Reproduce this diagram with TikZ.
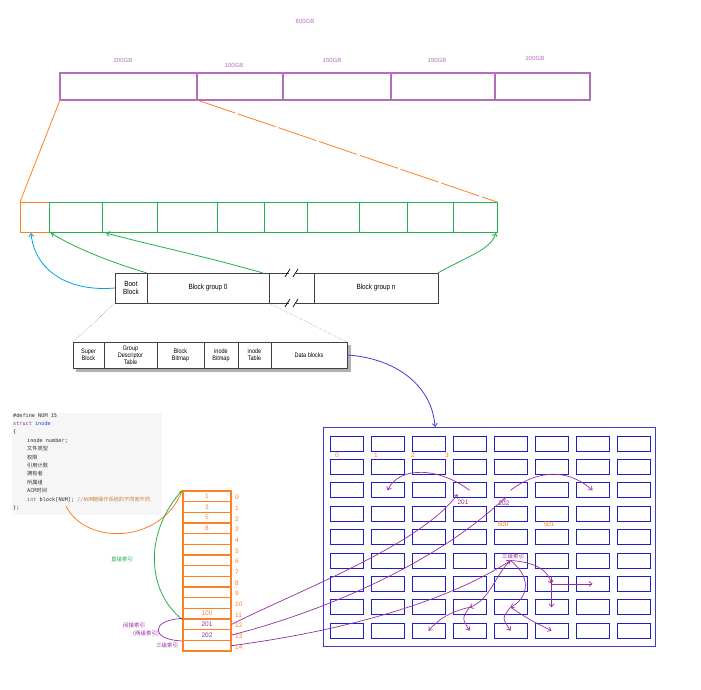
\documentclass[tikz,border=0pt]{standalone}
\usepackage{fontspec}
\setmainfont{Liberation Sans}
\setmonofont{DejaVu Sans Mono}
\newfontfamily\cjk{Noto Sans CJK SC}
\newfontfamily\narrowsf[FakeStretch=0.85]{Liberation Sans}
\usetikzlibrary{arrows.meta,calc}
\definecolor{diskpurple}{RGB}{180,110,190}
\definecolor{paintorange}{RGB}{255,127,39}
\definecolor{paintgreen}{RGB}{34,177,76}
\definecolor{paintblue}{RGB}{0,162,232}
\definecolor{deepblue}{RGB}{60,60,205}
\definecolor{gridblue}{RGB}{30,30,200}
\definecolor{linkpurple}{RGB}{150,45,160}
\definecolor{codebg}{RGB}{246,246,246}
\definecolor{codepurple}{RGB}{160,40,170}
\definecolor{codeblue}{RGB}{40,70,210}
\definecolor{codegreen}{RGB}{60,140,80}
\definecolor{codebrown}{RGB}{200,130,60}

\begin{document}
\begin{tikzpicture}[x=1pt,y=-1pt,>={Straight Barb[length=3pt,width=5pt]},
  sizelbl/.style={text=diskpurple,font=\fontsize{6}{7}\selectfont,inner sep=0},
  part/.style={draw=diskpurple,line width=1.2pt},
  grp/.style={draw=black!75,line width=.6pt,inner sep=0,outer sep=0,minimum height=30pt,anchor=north west,align=center,font=\narrowsf\fontsize{7.5}{8.5}\selectfont},
  subcell/.style={draw=black!75,fill=white,line width=.6pt,inner sep=0,outer sep=0,minimum height=26pt,anchor=north west,align=center,font=\narrowsf\fontsize{6.5}{6.8}\selectfont},
  blk/.style={draw=gridblue,line width=.9pt,minimum width=33pt,minimum height=15pt,inner sep=0},
  slot/.style={draw=paintorange,line width=1.2pt,minimum width=48pt,minimum height=10.67pt,inner sep=0,text=paintorange,font=\fontsize{6.5}{7}\selectfont},
  idx/.style={text=paintorange,font=\fontsize{6.5}{7}\selectfont,anchor=west,inner sep=0},
  link/.style={linkpurple,line width=.7pt},
  cjklbl/.style={font=\cjk\fontsize{5.5}{6.5}\selectfont,inner sep=0}]
\useasboundingbox (0,0) rectangle (701,690);
\node[sizelbl] (total) at (305,21) {800GB};
\foreach \a/\b/\t/\x/\h [count=\i] in {60/197/200GB/123/60,197/283/100GB/234/65,283/391/150GB/332/60,391/495/150GB/437/60,495/590/200GB/535/58}{
  \draw[part] (\a,73) rectangle (\b,100); \node[sizelbl] (size\i) at (\x,\h) {\t};}
\coordinate (p1) at (60,100); \coordinate (p2) at (197,100);
\draw[paintorange,line width=1pt] (20,202) rectangle (497,232);
\foreach \a/\b in {49/102,102/157,157/217,217/264,264/307,307/359,359/407,407/453,453/497}
  \draw[paintgreen,line width=1pt] (\a,202) rectangle (\b,232);
\coordinate (m0) at (20,202); \coordinate (m1) at (497,202);
\coordinate (c0) at (31,233); \coordinate (c1) at (51,233); \coordinate (c2) at (106,233); \coordinate (c9) at (496,233);
\draw[paintorange,line width=.8pt] (p1)--(m0);
\draw[paintorange,line width=.8pt,dash pattern=on 40pt off 3pt] (p2)--(m1);

\node[grp,minimum width=32pt] (boot) at (115,273) {Boot\\Block};
\node[grp,minimum width=122pt] (bg0) at (147,273) {Block group 0};
\node[grp,minimum width=124pt] (bgn) at (314,273) {Block group n};
\draw[black!75,line width=.6pt] (bg0.north east)--(289,273) (296,273)--(bgn.north west) (bg0.south east)--(289,303) (296,303)--(bgn.south west);
\draw[black,line width=.7pt] (285,277)--(290,269) (293,277)--(298,269) (285,307)--(290,299) (293,307)--(298,299);
\draw[->,paintblue,line width=.8pt] (boot.west) .. controls (70,292) and (35,272) .. (c0);
\draw[->,paintgreen,line width=.8pt] (bg0.north west) .. controls (110,262) and (75,248) .. (c1);
\draw[->,paintgreen,line width=.8pt] ([xshift=-6pt]bg0.north east) .. controls (200,255) and (150,245) .. (c2);
\draw[->,paintgreen,line width=.8pt] (bgn.north east) .. controls (470,255) and (490,250) .. (c9);

\fill[black!30] (76,345) rectangle (351,372);
\foreach \a/\w/\t/\n in {73/31/{Super\\Block}/sb,104/53/{Group\\Descriptor\\Table}/gdt,157/47/{Block\\Bitmap}/bb,204/34/{inode\\Bitmap}/ib,238/33/{inode\\Table}/it,271/76/{Data blocks}/db}
  \node[subcell,minimum width=\w pt] (\n) at (\a,342) {\t};
\draw[black!60,densely dotted] (boot.south west)--(sb.north west) (bg0.south east)--(db.north east);

\draw[deepblue,line width=1pt] (323,427) rectangle (655,646);
\coordinate (gtop) at (435,427);
\draw[->,deepblue,line width=.8pt] (db.east) .. controls (395,358) and (432,385) .. (gtop);
\foreach \r in {0,...,8}{\foreach \c in {0,...,7}{\node[blk] (g-\r-\c) at ({346.5+41*\c},{443.5+23.4*\r}) {};}}
\foreach \t/\x in {0/337,1/376,2/413,3/447} \node[idx,anchor=center] (no\t) at (\x,455) {\t};
\node[idx,anchor=center] (no500) at (503,524) {500};
\node[idx,anchor=center] (no501) at (549,524) {501};
\node[idx,anchor=center,text=linkpurple] (no201) at (463,502) {201};
\node[idx,anchor=center,text=linkpurple] (no202) at (504,503) {202};
\node[cjklbl,text=linkpurple] (tri) at (513,556) {三级索引};

\fill[codebg] (12,413) rectangle (162,515);
\node[anchor=north west,inner sep=0,align=left,font=\ttfamily\fontsize{5.2}{8.4}\selectfont,text=black!80] (code) at (13,413) {%
\#define NUM 15\\
{\color{codepurple}struct} {\color{codeblue}inode}\\
\{\\
\hspace*{14pt}inode number;\\
\hspace*{14pt}{\cjk 文件类型}\\
\hspace*{14pt}{\cjk 权限}\\
\hspace*{14pt}{\cjk 引用计数}\\
\hspace*{14pt}{\cjk 拥有者}\\
\hspace*{14pt}{\cjk 所属组}\\
\hspace*{14pt}ACM{\cjk 时间}\\
\hspace*{14pt}{\color{codegreen}int} block[NUM]; {\color{codebrown}//NUM{\cjk 随操作系统的不同而不同}}\\
\};};
\coordinate (num) at (66,506);

\foreach \v [count=\i from 0] in {1,3,5,8,{$\cdots$},{$\cdots$},{$\cdots$},{$\cdots$},{$\cdots$},{$\cdots$},{$\cdots$},100,{\textcolor{linkpurple}{201}},{\textcolor{linkpurple}{202}},{}}{
  \node[slot] (i\i) at (207,{496.3+10.67*\i}) {\v}; \node[idx] (n\i) at (235,{497.5+10.67*\i}) {\i};}
\draw[->,paintorange,line width=.8pt] (num) .. controls (85,545) and (160,545) .. (i0.north west);
\draw[paintgreen,line width=.8pt] (i0.north west) .. controls (145,530) and (145,590) .. (i11.south west);
\node[cjklbl,text=paintgreen] (direct) at (122,559) {直接索引};
\draw[link] (i12.north west) .. controls (150,620) and (150,640) .. (i13.south west);
\node[cjklbl,text=linkpurple] (ind2) at (134,625) {间接索引};
\node[cjklbl,text=linkpurple] (two) at (146,634) {(两级索引)};
\node[cjklbl,text=linkpurple] (ind3) at (167,645) {三级索引};

\draw[->,link] (i12.east) .. controls (300,590) and (420,545) .. ($(g-2-3.south west)+(5,-4)$);
\draw[->,link] (i13.east) .. controls (330,610) and (440,560) .. ($(g-2-4.south west)+(12,-1)$);
\draw[->,link] (i14.east) .. controls (350,630) and (450,600) .. (g-5-4.center);
\draw[->,link] (g-2-3.center) .. controls (440,468) and (400,465) .. (g-2-1.center);
\draw[->,link] (g-2-4.center) .. controls (540,468) and (570,470) .. (g-2-6.center);
\draw[->,link] (g-5-4.center) .. controls (495,575) and (490,600) .. (g-7-3.center);
\draw[->,link] (g-7-3.center) .. controls (450,612) and (440,618) .. (g-8-2.center);
\draw[->,link] (g-7-3.center) .. controls (462,618) .. (g-8-3.center);
\draw[->,link] (g-5-4.center) .. controls (535,580) and (525,600) .. (g-7-4.center);
\draw[->,link] (g-7-4.center) .. controls (502,618) .. (g-8-4.center);
\draw[->,link] (g-7-4.center) .. controls (530,620) .. (g-8-5.center);
\draw[->,link] (g-5-4.center) .. controls (535,562) and (548,570) .. (g-6-5.center);
\draw[->,link] (g-6-5.center) -- (g-6-6.center);
\draw[->,link] (g-6-5.north) -- (g-7-5.center);
\end{tikzpicture}
\end{document}
